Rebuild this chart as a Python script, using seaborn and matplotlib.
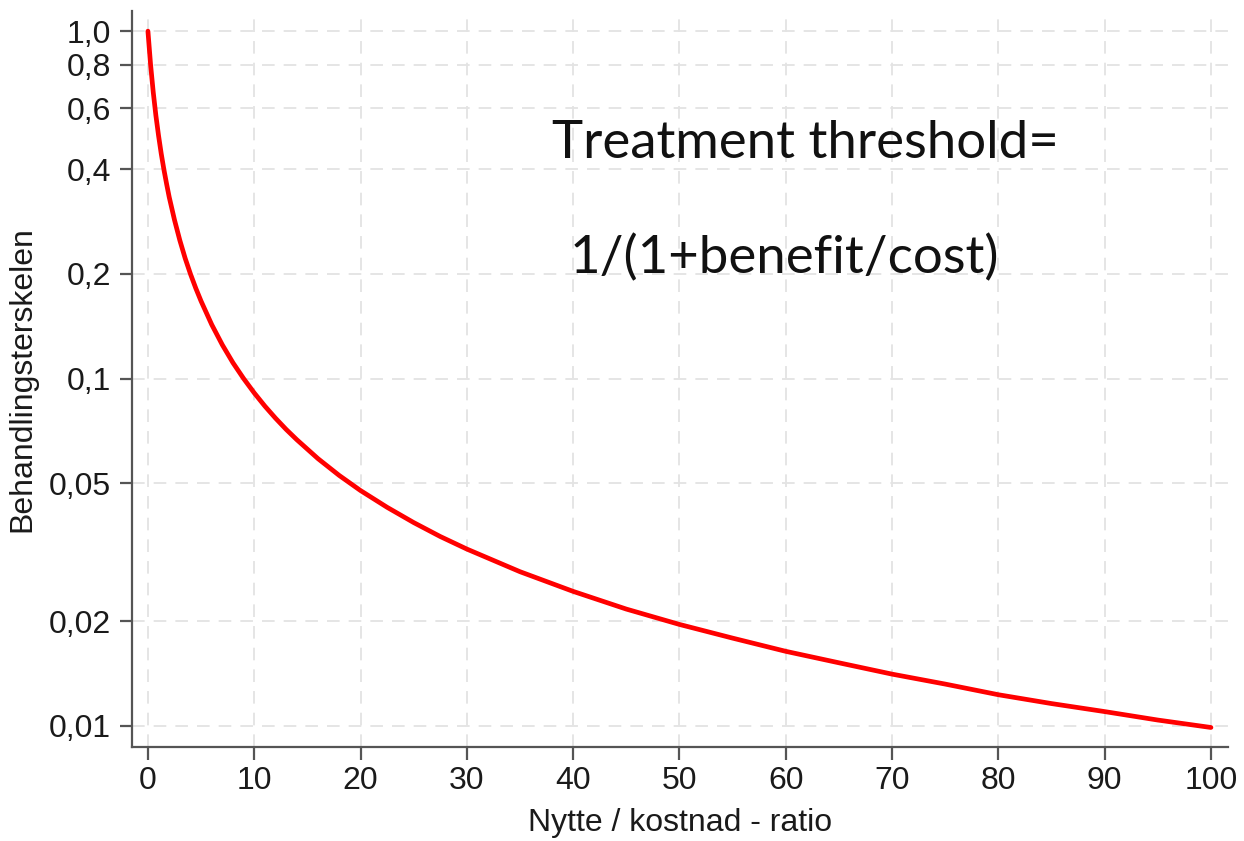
import matplotlib
matplotlib.use("Agg")
import matplotlib.pyplot as plt
import seaborn as sns
import pandas as pd

# Values
ratio = [0, 0.25, 0.5, 0.75, 1, 1.25, 1.5, 1.75, 2, 2.5, 3, 3.5, 4, 4.5, 5, 6, 7, 8, 9,
         10, 11, 12, 13, 14, 16, 18, 20, 22.5, 25, 27.5, 30, 35, 40, 45, 50, 55, 60,
         65, 70, 75, 80, 85, 90, 95, 100]
threshold = [1.0, 0.8, 0.667, 0.571, 0.5, 0.444, 0.4, 0.364, 0.333, 0.286, 0.25, 0.222,
             0.2, 0.182, 0.167, 0.143, 0.125, 0.111, 0.1, 0.0909, 0.0833, 0.0769,
             0.0714, 0.0667, 0.0588, 0.0526, 0.0476, 0.0426, 0.0385, 0.0351, 0.0323,
             0.0278, 0.0244, 0.0217, 0.0196, 0.0179, 0.0164, 0.0152, 0.0141, 0.0132,
             0.0123, 0.0116, 0.0110, 0.0104, 0.0099]

y_ticks = [0.01, 0.02, 0.05, 0.1, 0.2, 0.4, 0.6, 0.8, 1.0]
y_tick_labels = ["0,01", "0,02", "0,05", "0,1", "0,2", "0,4", "0,6", "0,8", "1,0"]
x_ticks = [0, 10, 20, 30, 40, 50, 60, 70, 80, 90, 100]

df = pd.DataFrame({"ratio": ratio, "threshold": threshold})

sns.set_theme(style="white")
plt.rcParams['font.family'] = ['Liberation Sans', 'DejaVu Sans']

fig = plt.figure(figsize=(12.44, 8.41), dpi=100)
ax = fig.add_axes([0.1061, 0.1118, 0.881, 0.875])

sns.lineplot(data=df, x="ratio", y="threshold", ax=ax, color="#ff0000", lw=3.4)

ax.set_yscale("log")
ax.set_ylim(0.0087, 1.142)
ax.set_xlim(-1.5, 101.6)
ax.set_yticks(y_ticks)
ax.set_yticklabels(y_tick_labels)
ax.minorticks_off()
ax.set_xticks(x_ticks)
ax.set_xticklabels([str(v) for v in x_ticks])

ax.grid(True, which="major", color="#e3e3e3", linestyle=(0, (7, 5)), linewidth=1.3)
for s in ["top", "right"]:
    ax.spines[s].set_visible(False)
for s in ["left", "bottom"]:
    ax.spines[s].set_color("#555555")
    ax.spines[s].set_linewidth(1.6)

ax.tick_params(axis="y", which="major", direction="out", length=9, width=1.6,
               color="#555555", labelsize=23, labelcolor="#1a1a1a", pad=6, left=True)
ax.tick_params(axis="x", which="major", direction="out", length=9, width=1.6,
               color="#555555", labelsize=23, labelcolor="#1a1a1a", pad=5, bottom=True)

ax.set_xlabel("Nytte / kostnad - ratio", fontsize=23, color="#1a1a1a", labelpad=8)
ax.set_ylabel("Behandlingsterskelen", fontsize=23, color="#1a1a1a", labelpad=8)

fig.text(805 / 1244, 1 - 158 / 841, "Treatment threshold=", fontsize=38,
         family=["Lato", "DejaVu Sans"], fontweight="normal", ha="center", va="baseline", color="#111111")
fig.text(784 / 1244, 1 - 273 / 841, "1/(1+benefit/cost)", fontsize=38,
         family=["Lato", "DejaVu Sans"], fontweight="normal", ha="center", va="baseline", color="#111111")

fig.savefig("out.png", dpi=100)
